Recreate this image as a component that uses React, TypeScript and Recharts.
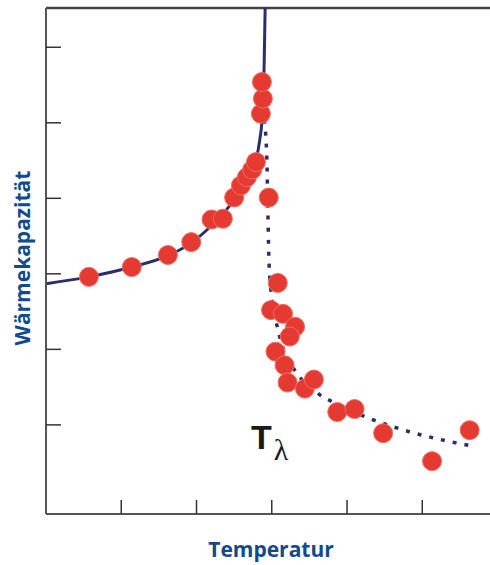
import {
  ComposedChart,
  Line,
  Scatter,
  XAxis,
  YAxis,
  ReferenceLine,
} from "recharts";

// measured points (temperature, heat capacity) in axis units
const lowT = [0.57, 1.14, 1.62, 1.93, 2.2, 2.35, 2.5, 2.59, 2.67, 2.74, 2.79, 2.855, 2.882, 2.869];
const lowC = [1.96, 2.09, 2.25, 2.42, 2.72, 2.73, 3.01, 3.17, 3.28, 3.38, 3.48, 4.12, 4.32, 4.54];

const highT = [2.96, 3.08, 2.99, 3.15, 3.31, 3.24, 3.05, 3.17, 3.21, 3.44, 3.56, 3.87, 4.1, 4.48, 5.13, 5.63];
const highC = [3.01, 1.88, 1.52, 1.47, 1.3, 1.17, 0.97, 0.79, 0.56, 0.48, 0.6, 0.17, 0.21, -0.11, -0.48, -0.07];

// theory curve below the lambda point (solid)
const belowT = [0, 0.57, 1.14, 1.62, 1.93, 2.2, 2.44, 2.64, 2.78, 2.84, 2.88, 2.9, 2.912];
const belowC = [1.87, 1.96, 2.09, 2.24, 2.41, 2.64, 2.9, 3.19, 3.47, 3.77, 4.17, 4.83, 5.52];

// curve above the lambda point (dotted)
const aboveT = [2.9, 2.935, 2.948, 2.961, 2.988, 3.054, 3.16, 3.33, 3.61, 3.9, 4.34, 4.9, 5.46, 5.71];
const aboveC = [4.04, 3.51, 2.85, 2.23, 1.79, 1.39, 0.99, 0.69, 0.42, 0.26, 0.07, -0.11, -0.24, -0.29];

const xTicks = [1, 2, 3, 4, 5];
const yTicks = [0, 1, 2, 3, 4, 5];
const xDomain = [0, 5.9];
const yDomain = [-1.18, 5.52];

const zip = (xs: number[], ys: number[]) => xs.map((x, i) => ({ x, y: ys[i] }));

const points = [...zip(lowT, lowC), ...zip(highT, highC)];
const belowData = zip(belowT, belowC);
const aboveData = zip(aboveT, aboveC);

const BLUE = "#114a8d";
const NAVY = "#2b2e6b";
const AXIS = "#555";

const titleFont = "'Open Sans', 'Noto Sans', sans-serif";

function Dot(props: any) {
  if (props.cx == null || props.cy == null) return null;
  return <circle cx={props.cx} cy={props.cy} r={9.5} fill="#e53a31" stroke="#ef6c63" strokeWidth={1} />;
}

// tick marks only, no numbers
const NoLabel = () => <g />;

function YTitle(props: any) {
  const vb = props.viewBox || { y: 8, height: 506 };
  const cx = 22;
  const cy = vb.y + vb.height / 2 - 3;
  return (
    <text
      x={cx}
      y={cy}
      transform={`rotate(-90 ${cx} ${cy})`}
      textAnchor="middle"
      dominantBaseline="central"
      fontFamily={titleFont}
      fontWeight={700}
      fontSize={21}
      fill={BLUE}
    >
      Wärmekapazität
    </text>
  );
}

function XTitle(props: any) {
  const vb = props.viewBox || { x: 46, width: 444 };
  return (
    <text
      x={vb.x + vb.width / 2 + 3}
      y={557}
      textAnchor="middle"
      fontFamily={titleFont}
      fontWeight={700}
      fontSize={21}
      fill={BLUE}
    >
      Temperatur
    </text>
  );
}

export default function App() {
  return (
    <div style={{ position: "absolute", left: 0, top: 0, width: 490, height: 565, background: "#fff" }}>
      <ComposedChart width={490} height={565} margin={{ top: 8, right: 0, bottom: 51, left: 46 }}>
        <XAxis
          type="number"
          dataKey="x"
          domain={xDomain}
          ticks={xTicks}
          allowDataOverflow
          height={51}
          mirror
          tick={NoLabel}
          tickSize={14}
          tickLine={{ stroke: "#333", strokeWidth: 1.5 }}
          axisLine={{ stroke: AXIS, strokeWidth: 2 }}
          label={<XTitle />}
        />
        <YAxis
          type="number"
          dataKey="y"
          domain={yDomain}
          ticks={yTicks}
          allowDataOverflow
          width={46}
          mirror
          tick={NoLabel}
          tickSize={15}
          tickLine={{ stroke: "#333", strokeWidth: 1.5 }}
          axisLine={{ stroke: AXIS, strokeWidth: 2 }}
          label={<YTitle />}
        />
        <ReferenceLine y={yDomain[1]} stroke="#444" strokeWidth={2.5} />
        <Line
          data={belowData}
          dataKey="y"
          type="monotone"
          stroke={NAVY}
          strokeWidth={3}
          dot={false}
          activeDot={false}
          isAnimationActive={false}
        />
        <Line
          data={aboveData}
          dataKey="y"
          type="monotone"
          stroke={NAVY}
          strokeWidth={3.5}
          strokeDasharray="4 8"
          dot={false}
          activeDot={false}
          isAnimationActive={false}
        />
        <Scatter data={points} dataKey="y" shape={<Dot />} fill="#e53a31" isAnimationActive={false} />
      </ComposedChart>
      <div
        style={{
          position: "absolute",
          left: 251,
          top: 420,
          fontFamily: "'Liberation Sans', Arial, sans-serif",
          fontWeight: 700,
          fontSize: 34,
          color: "#1a1a1a",
          lineHeight: 1,
          whiteSpace: "nowrap",
        }}
      >
        T
        <span
          style={{
            fontFamily: "'Liberation Serif', 'DejaVu Serif', serif",
            fontWeight: 400,
            fontSize: 30,
            position: "relative",
            top: 11,
            marginLeft: 2,
          }}
        >
          λ
        </span>
      </div>
    </div>
  );
}
